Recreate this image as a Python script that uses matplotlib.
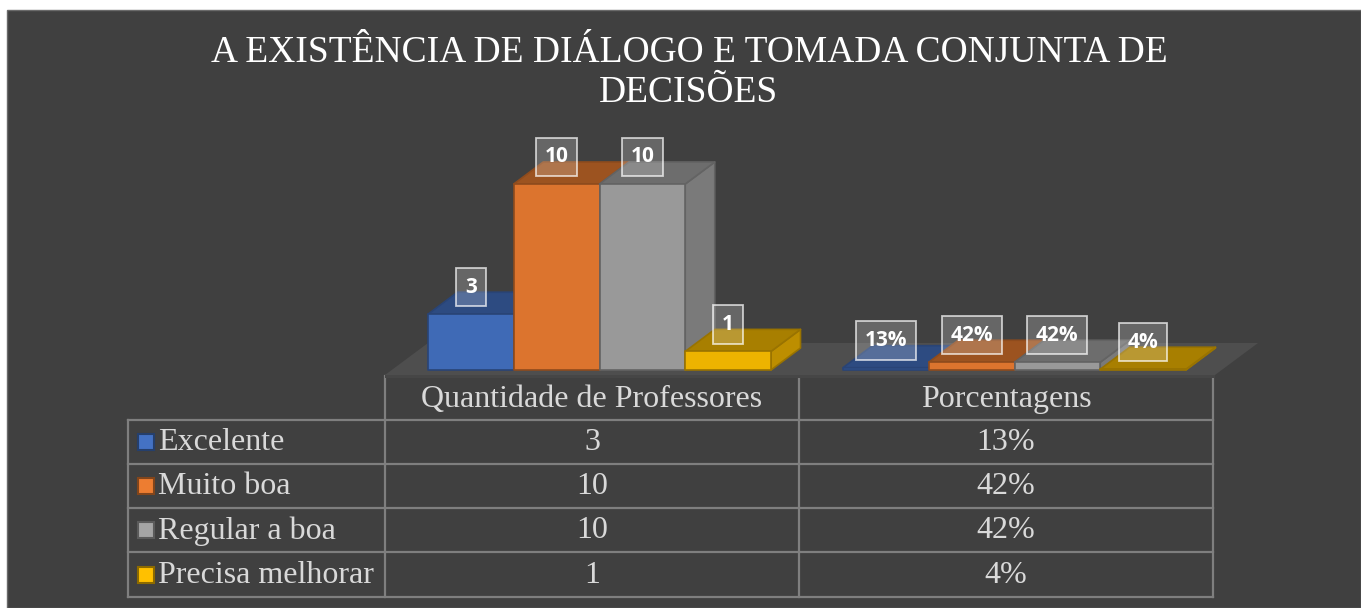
import matplotlib
matplotlib.use("Agg")
import matplotlib.pyplot as plt
from matplotlib.patches import Polygon, Rectangle
from matplotlib.colors import to_rgb

# dados do grafico
categorias = ["Excelente", "Muito boa", "Regular a boa", "Precisa melhorar"]
grupos = ["Quantidade de Professores", "Porcentagens"]
quantidade = [3, 10, 10, 1]
porcentagem = [0.125, 0.4167, 0.4167, 0.0417]
rotulos_qtd = ["3", "10", "10", "1"]
rotulos_pct = ["13%", "42%", "42%", "4%"]
titulo = "A EXISTÊNCIA DE DIÁLOGO E TOMADA CONJUNTA DE\nDECISÕES"
cores = ["#4472C4", "#ED7D31", "#A5A5A5", "#FFC000"]

W, H = 1361, 608
BG = "#404040"
LINHA = "#7f7f7f"
TXT = "#d9d9d9"
SERIF = "Liberation Serif"


def shade(c, f):
    r, g, b = to_rgb(c)
    return (r * f, g * f, b * f)


fig = plt.figure(figsize=(W / 100, H / 100), dpi=100)
fig.patch.set_facecolor("white")

# camada de fundo / tabela em coordenadas de pixel
ov = fig.add_axes([0, 0, 1, 1], zorder=0)
ov.set_xlim(0, W)
ov.set_ylim(H, 0)
ov.axis("off")
ov.add_patch(Rectangle((7, 10), W - 7, H - 10, facecolor=BG, edgecolor="#6a6a6a", lw=1))

# titulo
ov.text(689, 36, titulo, ha="center", va="top", fontsize=27, family=SERIF,
        color="white", linespacing=1.2)

# area do grafico 3D: 1 unidade x = largura da barra, 1 unidade y = 1 valor
px_x0, px_por_x = 428, 85.75
px_y0, px_por_y = 370, 18.6
ax = fig.add_axes([300 / W, (H - 380) / H, 1000 / W, 260 / H], zorder=1)
ax.set_xlim((300 - px_x0) / px_por_x, (1300 - px_x0) / px_por_x)
ax.set_ylim((px_y0 - 380) / px_por_y, (px_y0 - 120) / px_por_y)
ax.axis("off")

# profundidade das barras e do piso
dx, dy = 29.5 / px_por_x, 22 / px_por_y
fdx, fdy = 43 / px_por_x, 32 / px_por_y
fy = -5 / px_por_y
fx0, fx1 = (385 - px_x0) / px_por_x, (1215 - px_x0) / px_por_x
ax.add_patch(Polygon([(fx0, fy), (fx1, fy), (fx1 + fdx, fy + fdy), (fx0 + fdx, fy + fdy)],
                     closed=True, facecolor="#4e4e4e", edgecolor="none"))
ax.add_patch(Rectangle((fx0, fy - 3 / px_por_y), fx1 - fx0, 3 / px_por_y,
                       facecolor="#464646", edgecolor="none"))


def barra3d(x, h, cor, w=1.0):
    borda = shade(cor, 0.6)
    kw = dict(closed=True, edgecolor=borda, lw=1.2, joinstyle="round")
    ax.add_patch(Polygon([(x + w, 0), (x + w + dx, dy), (x + w + dx, h + dy), (x + w, h)],
                         facecolor=shade(cor, 0.74), **kw))
    ax.add_patch(Polygon([(x, h), (x + w, h), (x + w + dx, h + dy), (x + dx, h + dy)],
                         facecolor=shade(cor, 0.66), **kw))
    ax.add_patch(Polygon([(x, 0), (x + w, 0), (x + w, h), (x, h)],
                         facecolor=shade(cor, 0.93), **kw))


passo_grupo = 415 / px_por_x
desloc_rotulo = 27 / px_por_y
caixa = dict(boxstyle="square,pad=0.42", facecolor=(1, 1, 1, 0.2),
             edgecolor=(1, 1, 1, 0.7), lw=1.3)

for g, (vals, rots) in enumerate([(quantidade, rotulos_qtd), (porcentagem, rotulos_pct)]):
    for k, (v, r) in enumerate(zip(vals, rots)):
        x = g * passo_grupo + k
        barra3d(x, v, cores[k])
    for k, (v, r) in enumerate(zip(vals, rots)):
        x = g * passo_grupo + k
        ax.text(x + 0.5, v + desloc_rotulo, r, ha="center", va="center",
                fontsize=15, fontweight="bold", family="Open Sans", color="white",
                bbox=caixa, zorder=5)

# tabela de dados
col_x = [385, 799, 1213]
lin_y = [420, 464, 508, 552, 597]
esq = 128
for xv in col_x:
    ov.plot([xv, xv], [376, lin_y[-1]], color=LINHA, lw=1.6)
ov.plot([esq, esq], [lin_y[0], lin_y[-1]], color=LINHA, lw=1.6)
for yv in lin_y:
    ov.plot([esq, col_x[-1]], [yv, yv], color=LINHA, lw=1.6)

centros = [(col_x[i] + col_x[i + 1]) / 2 for i in range(2)]
for i, g in enumerate(grupos):
    ov.text(centros[i], 400, g, ha="center", va="center", fontsize=23,
            family=SERIF, color=TXT)

for k, cat in enumerate(categorias):
    yc = (lin_y[k] + lin_y[k + 1]) / 2
    ov.add_patch(Rectangle((138, yc - 8), 16, 16, facecolor=cores[k],
                           edgecolor=shade(cores[k], 0.55), lw=1.5))
    ov.text(158, yc + 1, cat, ha="left", va="center", fontsize=23,
            family=SERIF, color=TXT)
    ov.text(centros[0], yc + 1, rotulos_qtd[k], ha="center", va="center",
            fontsize=23, family=SERIF, color=TXT)
    ov.text(centros[1], yc + 1, rotulos_pct[k], ha="center", va="center",
            fontsize=23, family=SERIF, color=TXT)

fig.savefig("out.png", dpi=100, facecolor=fig.get_facecolor())
